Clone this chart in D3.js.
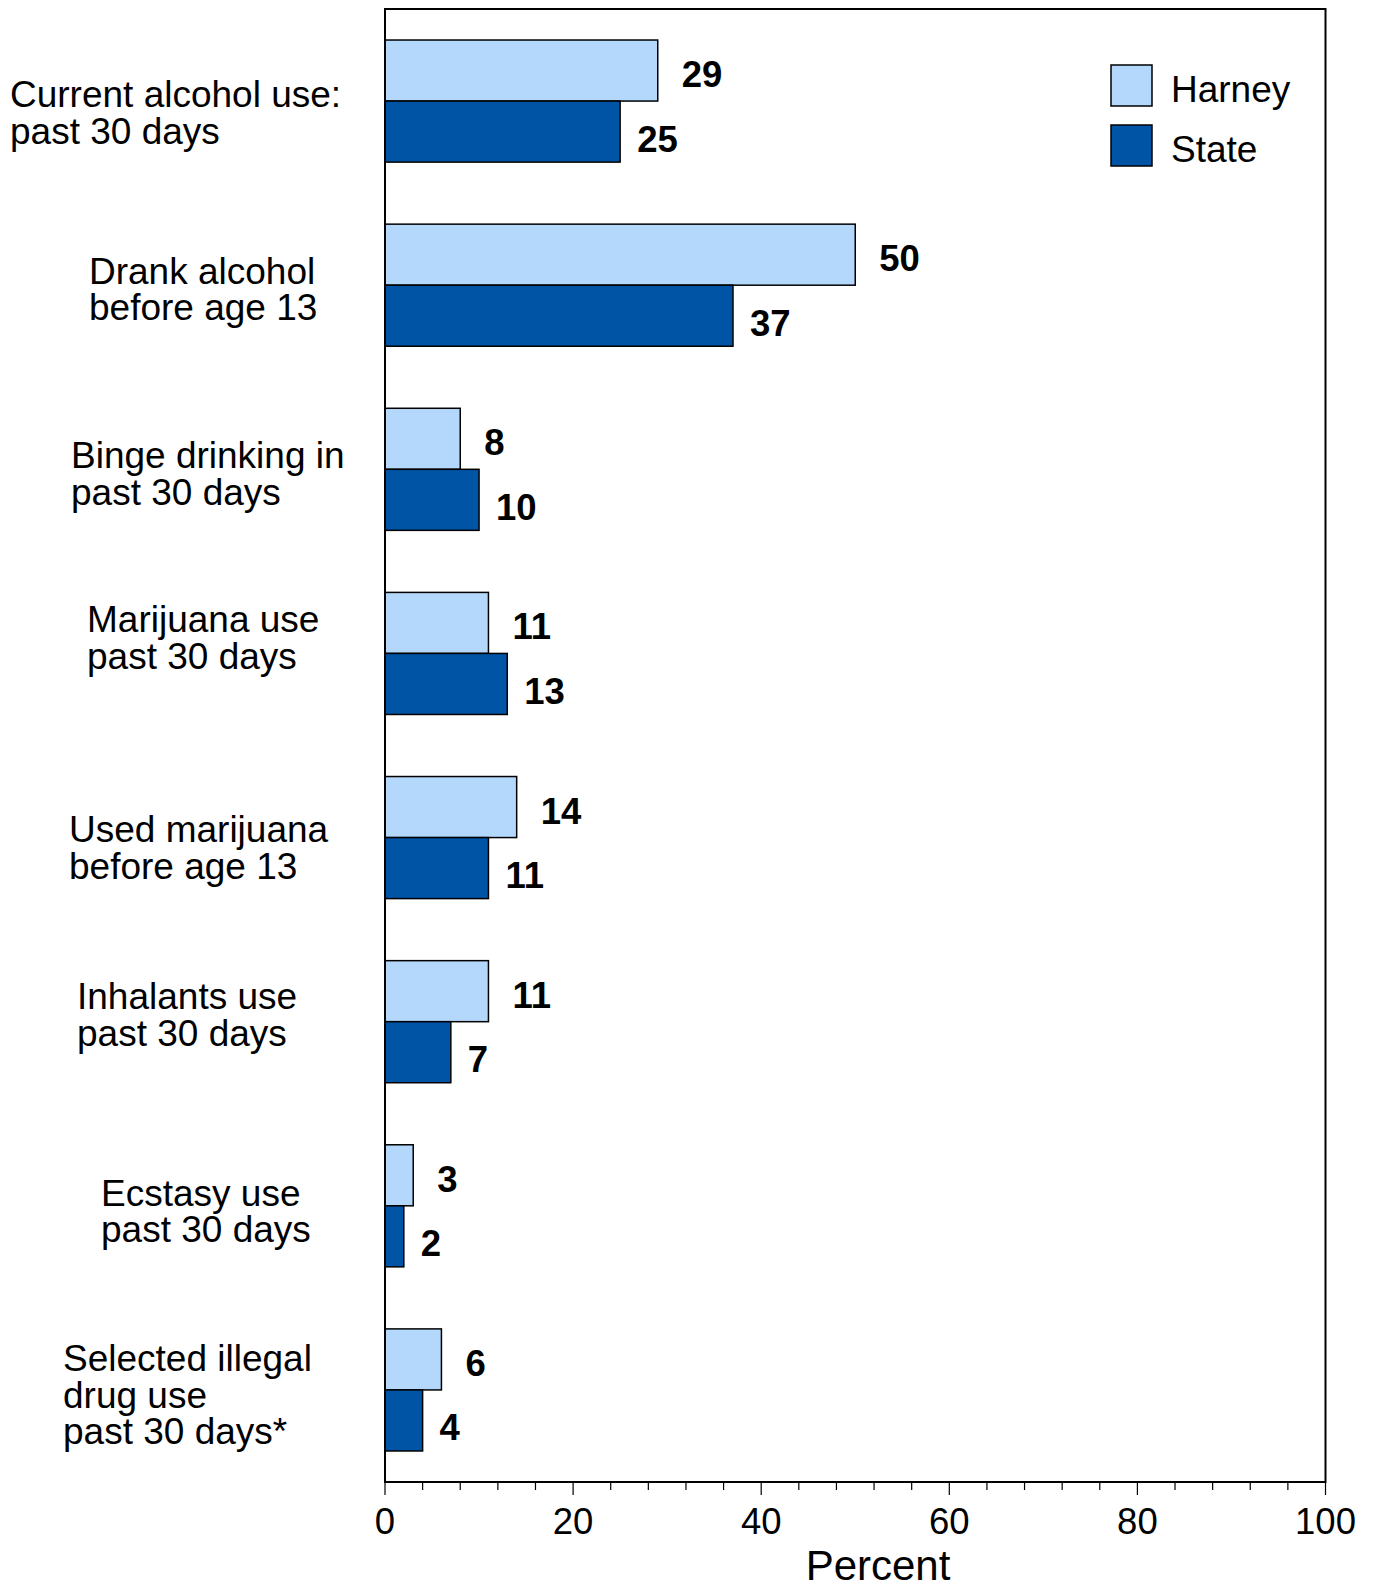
<!DOCTYPE html>
<html><head><meta charset="utf-8">
<script src="https://cdn.jsdelivr.net/npm/d3@7"></script>
<style>body{margin:0;background:#fff}svg{display:block}text{font-family:"Liberation Sans",Arial,sans-serif}</style>
</head><body><svg id="c" width="1373" height="1585"></svg>
<script>
const categories = [
  ["Current alcohol use:", "past 30 days"],
  ["Drank alcohol", "before age 13"],
  ["Binge drinking in", "past 30 days"],
  ["Marijuana use", "past 30 days"],
  ["Used marijuana", "before age 13"],
  ["Inhalants use", "past 30 days"],
  ["Ecstasy use", "past 30 days"],
  ["Selected illegal", "drug use", "past 30 days*"]
];
const harney = [29, 50, 8, 11, 14, 11, 3, 6];
const state = [25, 37, 10, 13, 11, 7, 2, 4];
const seriesNames = ["Harney", "State"];
const xTicks = [0, 20, 40, 60, 80, 100];
const xMinorTicks = d3.range(0, 101, 4);

// layout (label placement offsets)
const labelX = [10, 89, 71, 87, 69, 77, 101, 63];
const labelDy = [11.5, 4, 4, -16, 10, -7, 5, 5];

const colors = ["#B3D8FC", "#0054A6"];
const svg = d3.select("#c");
const L = 385, R = 1325.5, T = 9, B = 1482;
const x = d3.scaleLinear().domain([0, 100]).range([L, R]);
const y = d3.scaleBand().domain(d3.range(categories.length)).range([T, B]).paddingInner(0.337).paddingOuter(0.1685);
const sub = d3.scaleBand().domain([0, 1]).range([0, y.bandwidth()]);

const g = svg.append("g");
categories.forEach((c, i) => {
  [harney[i], state[i]].forEach((v, s) => {
    g.append("rect")
      .attr("x", x(0)).attr("y", y(i) + sub(s))
      .attr("width", x(v) - x(0)).attr("height", sub.bandwidth())
      .attr("fill", colors[s]).attr("stroke", "#000").attr("stroke-width", 1.5);
    g.append("text")
      .attr("x", x(v) + (s === 0 ? 24 : 17))
      .attr("y", y(i) + sub(s) + sub.bandwidth() / 2 + (s === 0 ? 16.5 : 20))
      .attr("font-size", 36.5).attr("font-weight", "bold").text(v);
  });
  const lines = c;
  const cy = y(i) + y.bandwidth() / 2 + labelDy[i];
  const lh = 36.5;
  lines.forEach((ln, k) => {
    svg.append("text").attr("x", labelX[i])
      .attr("y", cy + (k - (lines.length - 1) / 2) * lh + 13)
      .attr("font-size", 37).text(ln);
  });
});

// frame
svg.append("rect").attr("x", L).attr("y", T).attr("width", R - L).attr("height", B - T)
  .attr("fill", "none").attr("stroke", "#000").attr("stroke-width", 2);

// x axis
const ax = svg.append("g").attr("transform", `translate(0,${B})`);
ax.selectAll("line.minor").data(xMinorTicks).join("line")
  .attr("x1", d => x(d)).attr("x2", d => x(d)).attr("y1", 0).attr("y2", d => d % 20 === 0 ? 13 : 8)
  .attr("stroke", "#000").attr("stroke-width", 1.2);
ax.selectAll("text").data(xTicks).join("text")
  .attr("x", d => x(d)).attr("y", 52).attr("text-anchor", "middle")
  .attr("font-size", 36.5).text(d => d);
svg.append("text").attr("x", 878).attr("y", 1580).attr("text-anchor", "middle")
  .attr("font-size", 42).text("Percent");

// legend
const leg = svg.append("g");
seriesNames.forEach((n, s) => {
  leg.append("rect").attr("x", 1111).attr("y", 65 + s * 60).attr("width", 41).attr("height", 41)
    .attr("fill", colors[s]).attr("stroke", "#000").attr("stroke-width", 1.5);
  leg.append("text").attr("x", 1171).attr("y", 101.5 + s * 60).attr("font-size", 37).text(n);
});
</script></body></html>
